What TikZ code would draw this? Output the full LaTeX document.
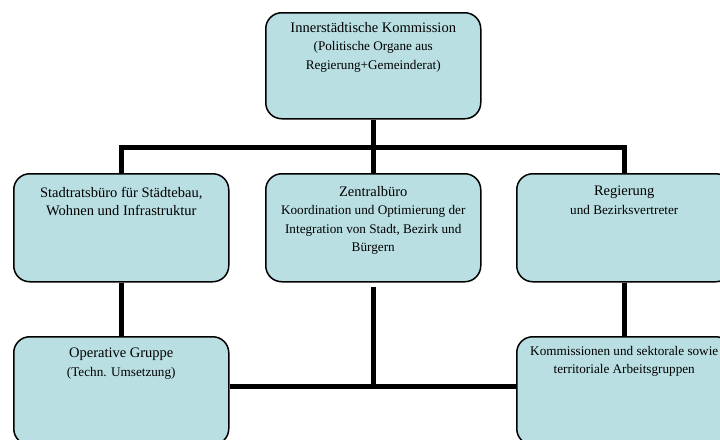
\documentclass[tikz,border=0pt]{standalone}
\usepackage{fontspec}
\setmainfont{Liberation Serif}
\definecolor{boxfill}{RGB}{185,223,227}
\tikzset{
  orgbox/.style={draw=black, line width=1.5pt, fill=boxfill, rounded corners=16pt,
    minimum width=215pt, minimum height=#1, inner sep=0pt, anchor=north west},
  orgbox/.default=106pt,
  conn/.style={draw=black, line width=5pt},
  txt/.style={anchor=north, inner sep=0pt, align=center, font=\fontsize{14.5}{18.5}\selectfont},
}
\newcommand{\subtxt}{\fontsize{13.2}{18.5}\selectfont}
\begin{document}
\begin{tikzpicture}[x=1pt,y=-1pt]
\useasboundingbox (0,0) rectangle (720,439);
\clip (0,0) rectangle (720,439);
% boxes
\node[orgbox=106pt] (top) at (265,12) {};
\node[orgbox=108pt] (sbu) at (13,173) {};
\node[orgbox=108pt] (zbu) at (265,173) {};
\node[orgbox=108pt] (reg) at (516,173) {};
\node[orgbox=108pt] (opg) at (13,336) {};
\node[orgbox=108pt] (kom) at (516,336) {};
% connectors
\coordinate (bus) at (372,147);
\coordinate (hb) at (372,386);
\draw[conn] (top.south) -- (zbu.north);
\draw[conn] (sbu.north) |- (bus) -| (reg.north);
\draw[conn] (sbu.south) -- (opg.north);
\draw[conn] (reg.south) -- (kom.north);
\draw[conn] ([yshift=-4pt]zbu.south) -- (zbu.south |- hb);
\draw[conn] (opg.east |- hb) -- (kom.west |- hb);
% texts
\node[txt] (ttop) at ([yshift=-10pt]top.north) {Innerstädtische Kommission\\{\subtxt(Politische Organe aus}\\{\subtxt Regierung+Gemeinderat)}};
\node[txt] (tsbu) at ([yshift=-14pt]sbu.north) {Stadtratsbüro für Städtebau,\\Wohnen und Infrastruktur};
\node[txt] (tzbu) at ([yshift=-13pt]zbu.north) {Zentralbüro\\{\subtxt Koordination und Optimierung der}\\{\subtxt Integration von Stadt, Bezirk und}\\{\subtxt Bürgern}};
\node[txt] (treg) at ([yshift=-13pt]reg.north) {Regierung\\{\subtxt und Bezirksvertreter}};
\node[txt] (topg) at ([yshift=-12pt]opg.north) {Operative Gruppe\\{\subtxt(Techn. Umsetzung)}};
\node[txt, font=\subtxt] (tkom) at ([yshift=-10pt]kom.north) {Kommissionen und sektorale sowie\\territoriale Arbeitsgruppen};
\end{tikzpicture}
\end{document}
